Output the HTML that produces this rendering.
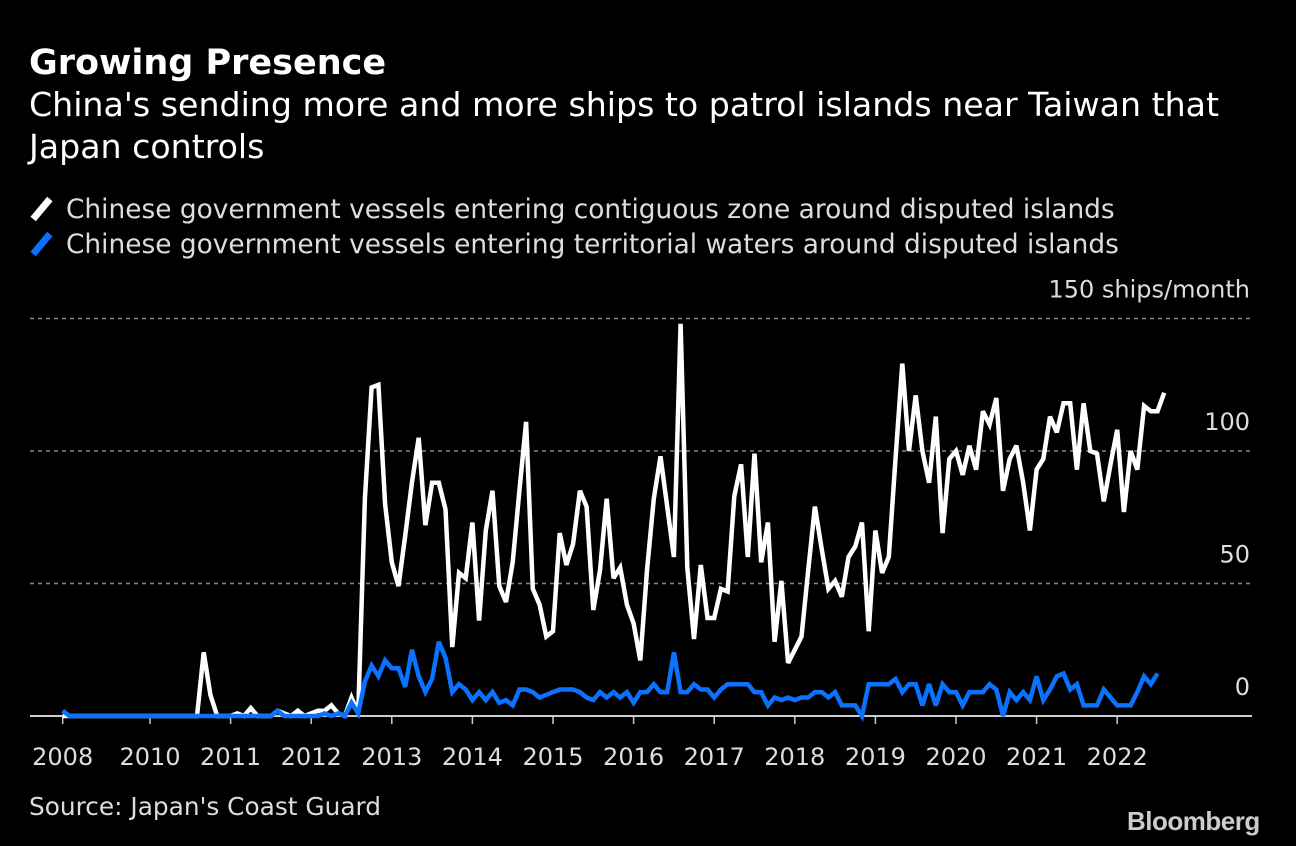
<!DOCTYPE html>
<html><head><meta charset="utf-8"><style>
html,body{margin:0;padding:0;background:#000;}
body{width:1296px;height:846px;overflow:hidden;position:relative;font-family:"DejaVu Sans",sans-serif;color:#fff;}
.t{position:absolute;white-space:nowrap;}
</style></head><body>
<div class="t" style="left:29px;top:43px;font-size:35px;font-weight:bold;">Growing Presence</div>
<div class="t" style="left:29px;top:84px;font-size:33.2px;line-height:42px;white-space:normal;width:1240px;">China's sending more and more ships to patrol islands near Taiwan that Japan controls</div>
<div class="t" style="left:30px;top:194px;font-size:26.4px;color:#ddd;"><span style="display:inline-block;width:7px;height:26px;background:#fff;transform:rotate(40deg);margin:0 21px -4px 8px;"></span>Chinese government vessels entering contiguous zone around disputed islands</div>
<div class="t" style="left:30px;top:229px;font-size:26.4px;color:#ddd;"><span style="display:inline-block;width:7px;height:26px;background:#0a72ff;transform:rotate(40deg);margin:0 21px -4px 8px;"></span>Chinese government vessels entering territorial waters around disputed islands</div>
<svg id="chart" width="1296" height="846" style="position:absolute;left:0;top:0;"></svg>
<div class="t" style="left:29px;top:792px;font-size:24.8px;color:#ddd;">Source: Japan's Coast Guard</div>
<div class="t" style="left:1127px;top:806px;font-family:'Liberation Sans',sans-serif;font-size:26px;font-weight:bold;color:#ccc;letter-spacing:-0.5px;">Bloomberg</div>
<script>
// monthly values, starting Dec 2008
const startYear = 2008 + 11/12;
const contiguous = [0,
0,0,0,0,0,0,0,0,0,0,0,0,
0,0,0,0,0,0,0,0,24,8,0,0,
0,1,0,3,0,0,0,2,1,0,2,0,
1,2,2,4,1,0,7,1,82,124,125,80,
58,49,68,88,105,72,88,88,78,26,54,52,
73,36,70,85,49,43,58,85,111,48,42,30,
32,69,57,65,85,79,40,55,82,52,56,42,
35,21,55,82,98,79,60,148,56,29,57,37,
37,48,47,83,95,60,99,58,73,28,51,20,
25,30,55,79,63,48,51,45,60,64,73,32,
70,54,60,97,133,100,121,100,88,113,69,97,
100,91,102,93,115,110,120,85,97,102,88,70,
93,97,113,107,118,118,93,118,100,99,81,95,
108,77,100,93,117,115,115,122];
const territorial = [2,
0,0,0,0,0,0,0,0,0,0,0,0,
0,0,0,0,0,0,0,0,0,0,0,0,
0,0,0,0,0,0,0,2,0,0,0,0,
0,0,1,0,1,0,5,1,13,19,15,21,
18,18,11,25,15,9,14,28,22,9,12,10,
6,9,6,9,5,6,4,10,10,9,7,8,
9,10,10,10,9,7,6,9,7,9,7,9,
5,9,9,12,9,9,24,9,9,12,10,10,
7,10,12,12,12,12,9,9,4,7,6,7,
6,7,7,9,9,7,9,4,4,4,0,12,
12,12,12,14,9,12,12,4,12,4,12,9,
9,4,9,9,9,12,10,0,9,6,9,6,
15,6,10,15,16,10,12,4,4,4,10,7,
4,4,4,9,15,12,16];
const yTicks = [0,50,100,150];
const xTickYears = [2008,2010,2011,2012,2013,2014,2015,2016,2017,2018,2019,2020,2021,2022];

const svg = document.getElementById('chart');
const NS = 'http://www.w3.org/2000/svg';
const X = t => 150 + (t - 2010) * 80.6;
const Y = v => 716 - v * 2.65;
function mk(tag, attrs){const e=document.createElementNS(NS,tag);for(const k in attrs)e.setAttribute(k,attrs[k]);svg.appendChild(e);return e;}

yTicks.forEach(v=>{
  if(v>0){
    const g = mk('line',{x1:30,x2:1252,y1:Y(v),y2:Y(v),stroke:'#888','stroke-width':1.5,'stroke-dasharray':'4 4'});
    
    
  }
  const t = mk('text',{x:1250,y:Y(v)-21,'text-anchor':'end','font-size':24,fill:'#ddd','font-family':'DejaVu Sans, sans-serif'});
  t.textContent = v===150 ? '150 ships/month' : String(v);
  
  
});
const ax = mk('line',{x1:30,x2:1252,y1:716,y2:716,stroke:'#ccc','stroke-width':2});


xTickYears.forEach(yr=>{
  const xx = yr===2008 ? X(startYear) : X(yr);
  const tk = mk('line',{x1:xx,x2:xx,y1:716,y2:724,stroke:'#ccc','stroke-width':1.5});
  
  
  const t = mk('text',{x:xx,y:765,'text-anchor':'middle','font-size':24,fill:'#ddd','font-family':'DejaVu Sans, sans-serif'});
  t.textContent = String(yr);
  
  
});
function series(arr,color,name){
  const pts = arr.map((v,i)=>X(startYear+i/12).toFixed(1)+','+Y(v).toFixed(1)).join(' ');
  const p = mk('polyline',{points:pts,fill:'none',stroke:color,'stroke-width':4.5,'stroke-linejoin':'miter','stroke-miterlimit':3});
  
  
}
series(contiguous,'#ffffff','contiguous-zone-line');
series(territorial,'#0a72ff','territorial-waters-line');
</script>
</body></html>
